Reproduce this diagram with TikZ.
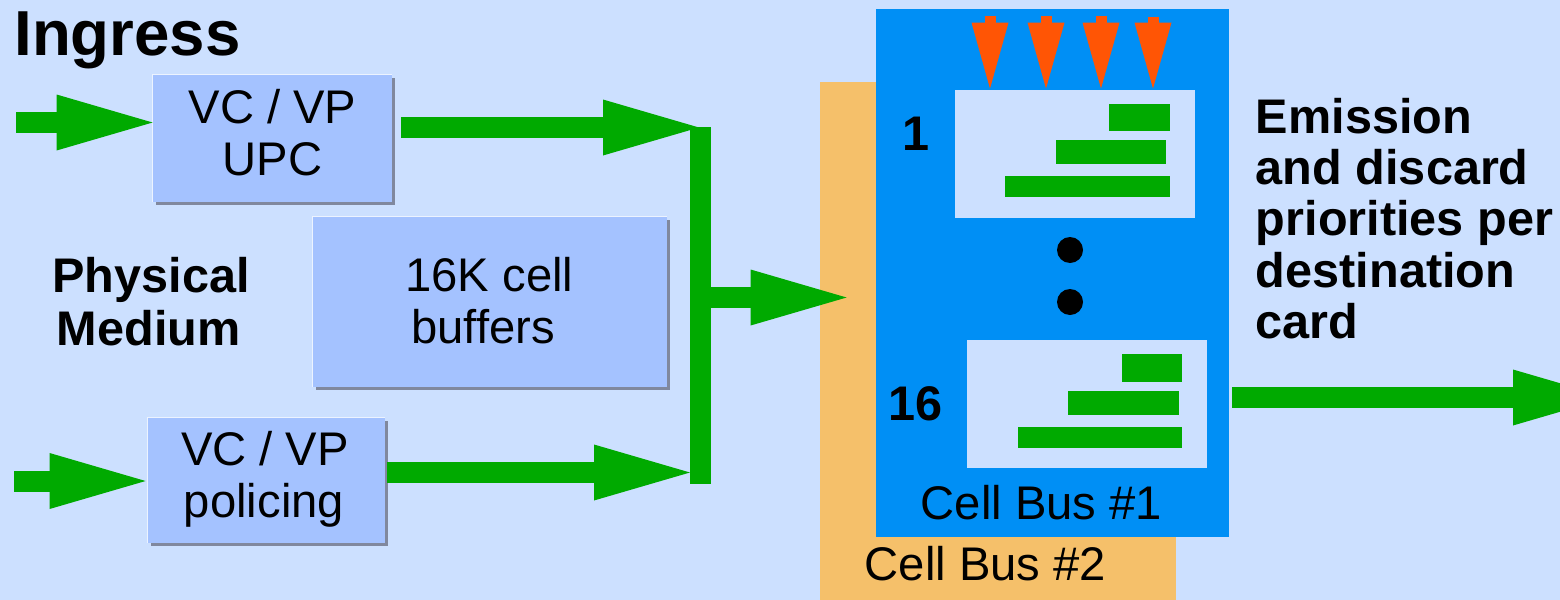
\documentclass[tikz,border=0pt]{standalone}
\usepackage{fontspec}
\setmainfont{Liberation Sans}
\usetikzlibrary{arrows.meta,shadows}
\definecolor{bgc}{RGB}{204,224,255}
\definecolor{boxc}{RGB}{164,194,255}
\definecolor{shadc}{RGB}{128,136,158}
\definecolor{hlc}{RGB}{236,243,255}
\definecolor{greenc}{RGB}{0,170,0}
\definecolor{bluec}{RGB}{0,143,245}
\definecolor{orangec}{RGB}{245,192,106}
\definecolor{redc}{RGB}{255,85,5}
\begin{document}
\begin{tikzpicture}[x=0.5pt,y=-0.5pt,
  txt/.style={inner sep=0pt, font=\fontsize{23.6pt}{28pt}\selectfont},
  btxt/.style={inner sep=0pt, font=\fontsize{24.3pt}{28pt}\selectfont\bfseries},
  blockbox/.style={fill=boxc, inner sep=0pt,
    drop shadow={shadow xshift=1.5pt, shadow yshift=-1.5pt, fill=shadc, opacity=1}},
  hl/.style={draw=hlc, line width=0.6pt},
  bigarrow/.style={draw=greenc, line width=10.5pt,
    -{Triangle[length=48pt, width=28pt, line width=0pt]}},
  vbar/.style={draw=greenc, line width=10.5pt},
  downarrow/.style={draw=redc, line width=5.5pt,
    -{Triangle[length=33pt, width=18.5pt, line width=0pt]}},
  panel/.style={fill=bgc, inner sep=0pt, minimum width=120pt, minimum height=64pt},
  qbar/.style={fill=greenc},
  dot/.style={circle, fill=black, inner sep=0pt, minimum size=13pt}
]
\clip (0,0) rectangle (1560,600);
\fill[bgc] (0,0) rectangle (1560,600);

% cell buses
\node[fill=orangec, inner sep=0pt, minimum width=178pt, minimum height=264pt] (bus2) at (998,346) {};
\node[fill=bluec, inner sep=0pt, minimum width=176.5pt, minimum height=264pt] (bus1) at (1052.5,273) {};
\node[panel] (p1) at (1075,154) {};
\node[panel] (p16) at (1087,404) {};
\fill[qbar] (1109,104) rectangle (1170,131);
\fill[qbar] (1056,140) rectangle (1166,164);
\fill[qbar] (1005,176) rectangle (1170,197);
\fill[qbar] (1122,354) rectangle (1182,382);
\fill[qbar] (1068,391) rectangle (1179,415);
\fill[qbar] (1018,427) rectangle (1182,448);
\node[dot] (dot1) at (1070,250) {};
\node[dot] (dot2) at (1070,302) {};

% orange arrows
\coordinate (o1) at (990,16);
\coordinate (o2) at (1046,16);
\coordinate (o3) at (1101,16);
\coordinate (o4) at (1153,17);
\draw[downarrow] (o1) -- ([yshift=0.5pt]o1 |- p1.north);
\draw[downarrow] (o2) -- ([yshift=0.5pt]o2 |- p1.north);
\draw[downarrow] (o3) -- ([yshift=0.5pt]o3 |- p1.north);
\draw[downarrow] (o4) -- ([yshift=0.5pt]o4 |- p1.north);

% blocks
\node[blockbox, minimum width=119.5pt, minimum height=63.5pt] (upc) at (272.5,138.5) {};
\node[blockbox, minimum width=177pt, minimum height=85pt] (buf) at (490,302) {};
\node[blockbox, minimum width=118.5pt, minimum height=62.5pt] (pol) at (266.5,480.5) {};
\draw[hl] (upc.south west) -- (upc.north west) -- (upc.north east);
\draw[hl] (buf.south west) -- (buf.north west) -- (buf.north east);
\draw[hl] (pol.south west) -- (pol.north west) -- (pol.north east);

% green arrows
\coordinate (in1) at (16,122.5);
\coordinate (in2) at (14,481);
\coordinate (bartop) at (700.5,127);
\coordinate (barbot) at (700.5,484);
\coordinate (j1) at (699,127.5);
\coordinate (j2) at (690,472.5);
\coordinate (jm) at (711,297.5);
\coordinate (outtip) at (1609,397.5);
\draw[bigarrow] (in1) -- (in1 -| upc.west);
\draw[bigarrow] (in2) -- ([xshift=-1pt]in2 -| pol.west);
\draw[vbar] (bartop) -- (barbot);
\draw[bigarrow] ([xshift=4.5pt]upc.east |- j1) -- (j1);
\draw[bigarrow] ([xshift=1pt]pol.east |- j2) -- (j2);
\draw[bigarrow] (jm) -- ([xshift=13.5pt]bus2.west |- jm);
\draw[bigarrow] ([xshift=1.5pt]bus1.east |- outtip) -- (outtip);

% texts
\node[btxt, font=\fontsize{31.8pt}{36pt}\selectfont\bfseries, anchor=base west] (ingress) at (14,55) {Ingress};
\node[txt, anchor=base] (upct1) at (272.5,123) {VC / VP};
\node[txt, anchor=base] (upct2) at (272.5,175) {UPC};
\node[txt, anchor=base west] (buft1) at (405,291) {16K cell};
\node[txt, anchor=base west] (buft2) at (411,343) {buffers};
\node[txt, anchor=base] (polt1) at (265,465) {VC / VP};
\node[txt, anchor=base] (polt2) at (264,517) {policing};
\node[btxt, anchor=base west] (phys1) at (52,292) {Physical};
\node[btxt, anchor=base west] (phys2) at (56.5,345) {Medium};
\node[btxt, anchor=base west] (em1) at (1255.5,133) {Emission};
\node[btxt, anchor=base west] (em2) at (1255.5,184) {and discard};
\node[btxt, anchor=base west] (em3) at (1255.5,235.5) {priorities per};
\node[btxt, anchor=base west] (em4) at (1255.5,287) {destination};
\node[btxt, anchor=base west] (em5) at (1255.5,338) {card};
\node[btxt, anchor=base west] (n1) at (902,150) {1};
\node[btxt, anchor=base west] (n16) at (888,420) {16};
\node[txt, anchor=base west] (cb1) at (920.5,519) {Cell Bus \#1};
\node[txt, anchor=base west] (cb2) at (864.5,580) {Cell Bus \#2};
\end{tikzpicture}
\end{document}
